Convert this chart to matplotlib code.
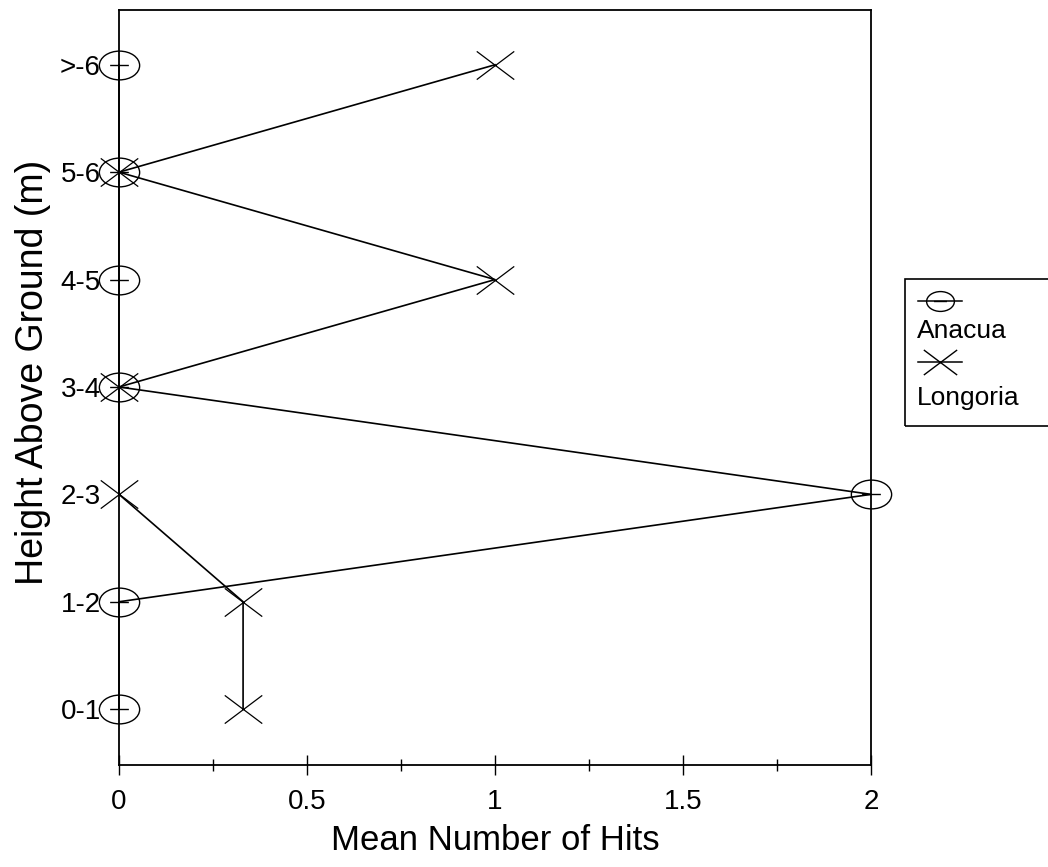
import numpy as np
import matplotlib
matplotlib.use("Agg")
import matplotlib.pyplot as plt
from matplotlib.path import Path
from matplotlib.patches import Rectangle
from matplotlib.lines import Line2D

plt.rcParams['font.family'] = ['Liberation Sans', 'DejaVu Sans']

# Data
heights = ['0-1', '1-2', '2-3', '3-4', '4-5', '5-6', '>-6']
anacua = [0, 0, 2, 0, 0, 0, 0]
longoria = [0.33, 0.33, 0, 0, 1, 0, 1]
x_ticks = [0, 0.5, 1, 1.5, 2]
x_tick_labels = ['0', '0.5', '1', '1.5', '2']

# Custom markers: flattened circle with a dash, and a wide X
circ = Path.unit_circle()
ell_verts = circ.vertices * np.array([1.4, 1.0])
ellipse = Path(ell_verts, circ.codes)
dash = Path([(-0.65, 0), (0.65, 0)], [Path.MOVETO, Path.LINETO])
circ_marker = Path.make_compound_path(ellipse, dash)
x_marker = Path([(-1.33, -1), (1.33, 1), (-1.33, 1), (1.33, -1)],
                [Path.MOVETO, Path.LINETO, Path.MOVETO, Path.LINETO])

W, H = 1048, 867
fig = plt.figure(figsize=(W / 100, H / 100), dpi=100)
ax = fig.add_axes([119 / W, 1 - 765 / H, (871 - 119) / W, (765 - 10) / H])

ypos = np.arange(len(heights))
ax.plot(anacua, ypos, color='black', lw=1.2, marker=circ_marker, ms=29,
        mfc='none', mec='black', mew=1.0, clip_on=False, zorder=3)
ax.plot(longoria, ypos, color='black', lw=1.2, marker=x_marker, ms=27,
        mfc='none', mec='black', mew=0.9, clip_on=False, zorder=3)

ax.set_xlim(0, 2)
ax.set_ylim(-0.52, 6.51)
ax.set_xticks(x_ticks)
ax.set_xticklabels(x_tick_labels, fontsize=20)
ax.set_xticks(np.arange(0.25, 2, 0.5), minor=True)
ax.tick_params(axis='x', which='major', direction='inout', length=14, width=1, pad=10)
ax.tick_params(axis='x', which='minor', direction='inout', length=8, width=1)
ax.set_yticks(ypos)
ax.set_yticklabels(heights, fontsize=20)
ax.tick_params(axis='y', length=0, pad=13)
for s in ax.spines.values():
    s.set_linewidth(1.3)

ax.set_xlabel('Mean Number of Hits', fontsize=25)
ax.xaxis.set_label_coords(0.5, -0.078)
ax.set_ylabel('Height Above Ground (m)', fontsize=27)
ax.yaxis.set_label_coords(-0.09, 0.52)


# Legend: marker on one line, label below it
def fx(px):
    return px / W


def fy(py):
    return 1 - py / H


fig.patches.append(Rectangle((fx(905), fy(426)), fx(1060) - fx(905), fy(279) - fy(426),
                             transform=fig.transFigure, fill=False, edgecolor='black',
                             lw=1.2, clip_on=False))
for y_px, mk, ms, label, ly in [(301, circ_marker, 20, 'Anacua', 331),
                                (362, x_marker, 24, 'Longoria', 398)]:
    fig.lines.append(Line2D([fx(918), fx(962)], [fy(y_px), fy(y_px)],
                            transform=fig.transFigure, color='black', lw=1.1))
    fig.lines.append(Line2D([fx(940)], [fy(y_px)], transform=fig.transFigure,
                            linestyle='none', marker=mk, ms=ms,
                            mfc='none', mec='black', mew=1.0))
    fig.text(fx(917), fy(ly), label, fontsize=19, va='center', ha='left')

fig.savefig('out.png', dpi=100)
